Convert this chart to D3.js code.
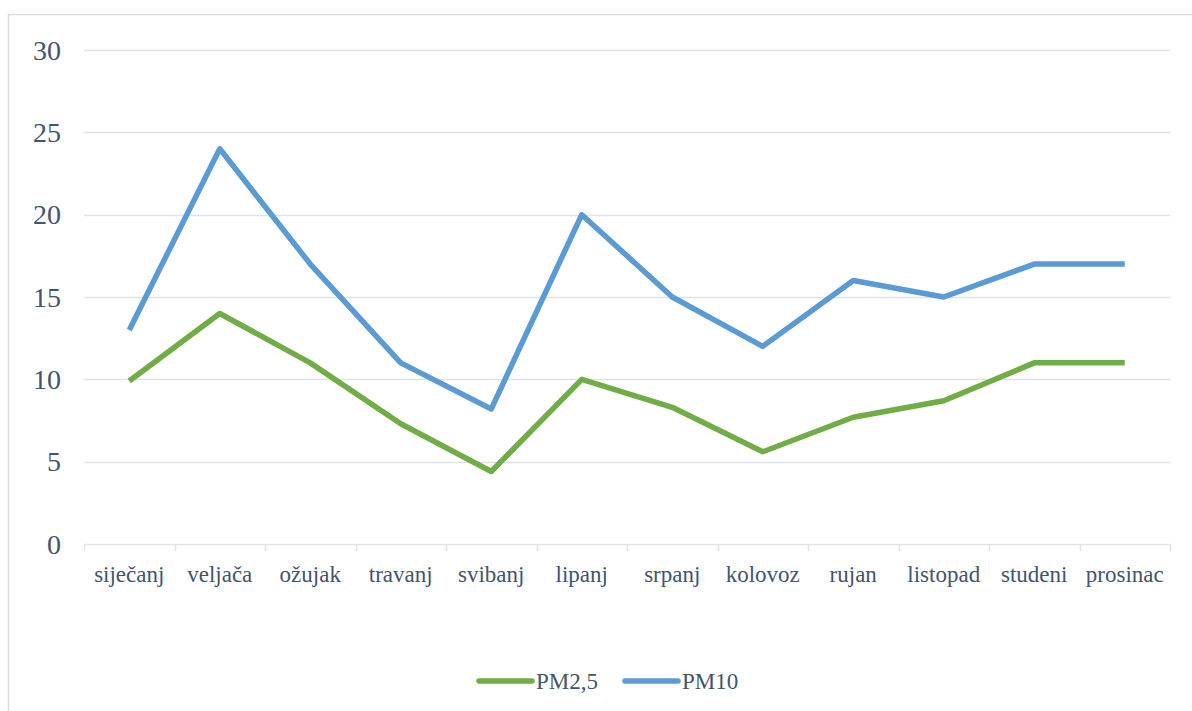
<!DOCTYPE html>
<html>
<head>
<meta charset="utf-8">
<script src="https://cdn.jsdelivr.net/npm/d3@7"></script>
<style>
  body { margin: 0; background: #fff; }
</style>
</head>
<body>
<svg id="chart" width="1192" height="711"></svg>
<script>
"use strict";

// months (Croatian)
var months = ["siječanj", "veljača", "ožujak", "travanj", "svibanj", "lipanj",
              "srpanj", "kolovoz", "rujan", "listopad", "studeni", "prosinac"];
var pm25 = [9.9, 14, 11, 7.3, 4.4, 10, 8.3, 5.6, 7.7, 8.7, 11, 11];
var pm10 = [13, 24, 17, 11, 8.2, 20, 15, 12, 16, 15, 17, 17];
var yTicks = [0, 5, 10, 15, 20, 25, 30];
var seriesNames = ["PM2,5", "PM10"];
var seriesColors = ["#70ad47", "#5b9bd5"];

var FONT = "'Liberation Serif', 'Times New Roman', 'DejaVu Serif', serif";
var TEXT_COLOR = "#44546a";

var svg = d3.select("#chart");
var margin = {left: 84, right: 22, top: 50, bottom: 167};
var width = 1192 - margin.left - margin.right,
    height = 711 - margin.top - margin.bottom;

// chart frame
svg.append("rect")
  .attr("x", 8.5).attr("y", 14.5)
  .attr("width", 1200).attr("height", 720)
  .attr("fill", "none")
  .attr("stroke", "#d9dde3")
  .attr("stroke-width", 1.5);

var g = svg.append("g")
  .attr("transform", "translate(" + margin.left + "," + margin.top + ")");

var x = d3.scaleBand().domain(months).range([0, width]);
var y = d3.scaleLinear().domain([0, 30]).range([height, 0]);

// gridlines
g.selectAll(".grid").data(yTicks.slice(1)).enter()
  .append("line")
  .attr("class", "grid")
  .attr("x1", 0).attr("x2", width)
  .attr("y1", function(d) { return Math.round(y(d)) + 0.5; })
  .attr("y2", function(d) { return Math.round(y(d)) + 0.5; })
  .attr("stroke", "#dfe3e8")
  .attr("stroke-width", 1.5);

// y axis labels
g.selectAll(".ylab").data(yTicks).enter()
  .append("text")
  .attr("class", "ylab")
  .attr("x", -23)
  .attr("y", function(d) { return y(d); })
  .attr("dy", "0.35em")
  .attr("text-anchor", "end")
  .attr("font-family", FONT)
  .attr("fill", TEXT_COLOR)
  .style("font-size", "28px")
  .text(function(d) { return d; });

// x axis
var xAxis = g.append("g")
  .attr("transform", "translate(0," + height + ")");
xAxis.append("line")
  .attr("x1", 0).attr("x2", width)
  .attr("y1", 0.5).attr("y2", 0.5)
  .attr("stroke", "#dfe3e8").attr("stroke-width", 1.5);
var bounds = months.map(function(m) { return x(m); }).concat([width]);
xAxis.selectAll(".tick").data(bounds).enter()
  .append("line")
  .attr("x1", function(d) { return Math.round(d) + 0.5; })
  .attr("x2", function(d) { return Math.round(d) + 0.5; })
  .attr("y1", 0).attr("y2", 7)
  .attr("stroke", "#dfe3e8").attr("stroke-width", 1.5);
xAxis.selectAll(".xlab").data(months).enter()
  .append("text")
  .attr("x", function(d) { return x(d) + x.bandwidth() / 2; })
  .attr("y", 38)
  .attr("text-anchor", "middle")
  .attr("font-family", FONT)
  .attr("fill", TEXT_COLOR)
  .style("font-size", "23px")
  .text(function(d) { return d; });

// lines
var line = d3.line()
  .x(function(d, i) { return x(months[i]) + x.bandwidth() / 2; })
  .y(function(d) { return y(d); });

[pm10, pm25].forEach(function(s, k) {
  g.append("path")
    .datum(s)
    .attr("fill", "none")
    .attr("stroke", k === 0 ? seriesColors[1] : seriesColors[0])
    .attr("stroke-width", 5.5)
    .attr("stroke-linejoin", "round")
    .attr("d", line);
});

// legend
var legendX = [477, 623];
var legend = svg.selectAll(".legend").data(seriesNames).enter()
  .append("g")
  .attr("class", "legend")
  .attr("transform", function(d, i) { return "translate(" + legendX[i] + ",681)"; });
legend.append("line")
  .attr("x1", 2).attr("x2", 55)
  .attr("y1", 0).attr("y2", 0)
  .attr("stroke", function(d, i) { return seriesColors[i]; })
  .attr("stroke-width", 5.5)
  .attr("stroke-linecap", "round");
legend.append("text")
  .attr("x", 59)
  .attr("y", 0)
  .attr("dy", "0.35em")
  .attr("font-family", FONT)
  .attr("fill", TEXT_COLOR)
  .style("font-size", "23px")
  .text(function(d) { return d; });
</script>
</body>
</html>
